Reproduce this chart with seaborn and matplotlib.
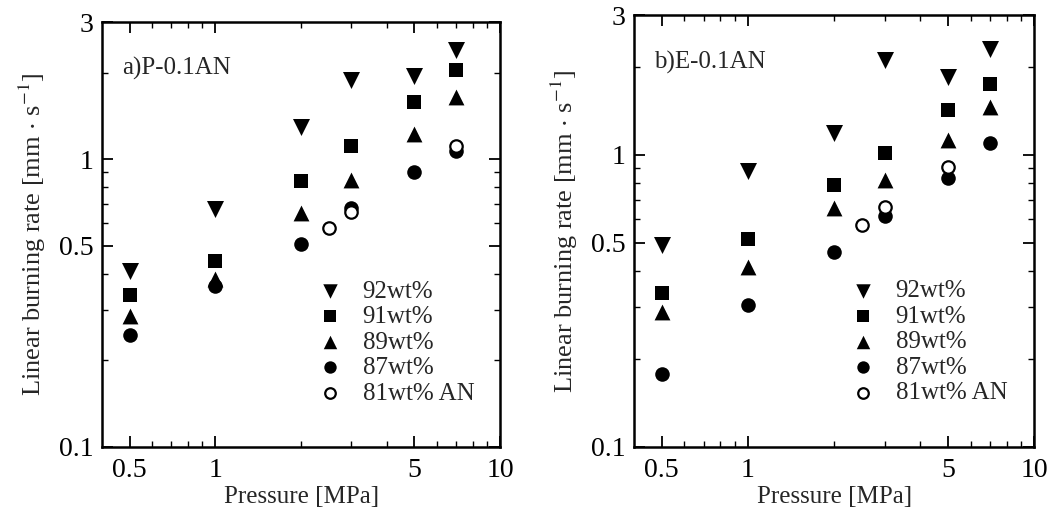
import matplotlib
matplotlib.use("Agg")
import matplotlib.pyplot as plt
import seaborn as sns
from matplotlib.ticker import FixedLocator, NullFormatter

sns.set_theme(style="white")
plt.rcParams['font.family'] = ['Liberation Serif', 'DejaVu Serif']
plt.rcParams['mathtext.fontset'] = 'stix'

# Pressure [MPa]
pressure = [0.5, 1, 2, 3, 5, 7]
pressure_an = {'a': [2.5, 3, 7], 'b': [2.5, 3, 5]}

# Linear burning rate [mm/s] - panel a) P-0.1AN
a_92 = [0.41, 0.67, 1.29, 1.89, 1.95, 2.39]
a_91 = [0.338, 0.444, 0.84, 1.11, 1.58, 2.05]
a_89 = [0.286, 0.384, 0.65, 0.85, 1.22, 1.64]
a_87 = [0.245, 0.361, 0.507, 0.676, 0.906, 1.07]
a_81an = [0.575, 0.656, 1.11]

# panel b) E-0.1AN
b_92 = [0.49, 0.877, 1.19, 2.10, 1.84, 2.29]
b_91 = [0.337, 0.514, 0.789, 1.01, 1.42, 1.75]
b_89 = [0.29, 0.414, 0.656, 0.82, 1.125, 1.46]
b_87 = [0.178, 0.306, 0.466, 0.615, 0.832, 1.096]
b_81an = [0.575, 0.662, 0.905]

labels = ['92wt%', '91wt%', '89wt%', '87wt%', '81wt% AN']

panels = {
    'a': ('a)P-0.1AN', [a_92, a_91, a_89, a_87], a_81an),
    'b': ('b)E-0.1AN', [b_92, b_91, b_89, b_87], b_81an),
}

fig = plt.figure(figsize=(10.62, 5.25), dpi=100)
ax_rects = {'a': [0.096, 0.149, 0.375, 0.809],
            'b': [0.597, 0.149, 0.377, 0.822]}

markers = ['v', 's', '^', 'o']
sizes = [150, 110, 130, 110]

for key, (title, series, an_vals) in panels.items():
    ax = fig.add_axes(ax_rects[key])
    for vals, mk, sz, lab in zip(series, markers, sizes, labels[:4]):
        sns.scatterplot(x=pressure, y=vals, marker=mk, s=sz, color='black',
                        edgecolor='black', linewidth=0, ax=ax, label=lab)
    sns.scatterplot(x=pressure_an[key], y=an_vals, marker='o', s=80, color='white',
                    edgecolor='black', linewidth=1.6, ax=ax, label=labels[4])

    ax.set_xscale('log')
    ax.set_yscale('log')
    ax.set_xlim(0.4, 10)
    ax.set_ylim(0.1, 3)

    ax.xaxis.set_major_locator(FixedLocator([0.5, 1, 5, 10]))
    ax.xaxis.set_minor_locator(FixedLocator([0.6, 0.7, 0.8, 0.9, 2, 3, 4, 6, 7, 8, 9]))
    ax.yaxis.set_major_locator(FixedLocator([0.1, 0.5, 1, 3]))
    ax.yaxis.set_minor_locator(FixedLocator([0.2, 0.3, 0.4, 0.6, 0.7, 0.8, 0.9, 2]))
    ax.set_xticklabels(['0.5', '1', '5', '10'])
    ax.set_yticklabels(['0.1', '0.5', '1', '3'])
    ax.xaxis.set_minor_formatter(NullFormatter())
    ax.yaxis.set_minor_formatter(NullFormatter())
    ax.tick_params(which='both', direction='in', top=True, right=True,
                   bottom=True, left=True, colors='black', labelsize=20)
    ax.tick_params(which='major', length=8, width=1.3)
    ax.tick_params(which='minor', length=4, width=1.0)
    ax.tick_params(axis='x', pad=8)
    ax.tick_params(axis='y', pad=6)
    for sp in ax.spines.values():
        sp.set_color('black')
        sp.set_linewidth(1.8)

    ax.set_xlabel('Pressure [MPa]', fontsize=18, labelpad=2)
    ax.set_ylabel(r'Linear burning rate [mm $\cdot$ s$^{-1}$]', fontsize=19, labelpad=8)
    ax.text(0.05, 0.89, title, transform=ax.transAxes, fontsize=18, va='center')

    ax.legend(loc='lower left', bbox_to_anchor=(0.51, 0.07), frameon=False,
              fontsize=18, handletextpad=0.8, labelspacing=0.12,
              borderpad=0, handlelength=1.0, markerscale=0.85)

fig.savefig('out.png', dpi=100)
